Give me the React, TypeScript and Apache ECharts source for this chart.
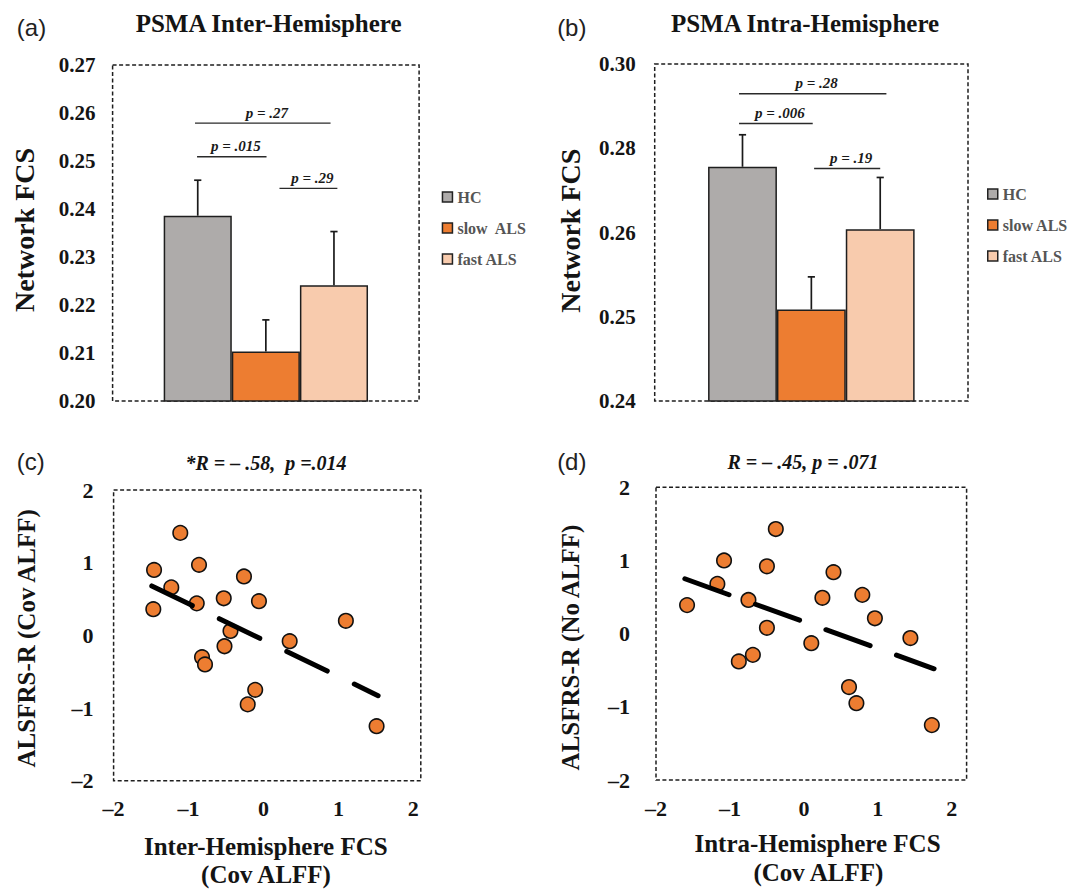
import React, { useEffect, useRef } from "react";
import * as echarts from "echarts";

// ---------- data ----------
const groupsInter = ["HC", "slow\u00a0 ALS", "fast ALS"];
const groupsIntra = ["HC", "slow ALS", "fast ALS"];
const groupColors = ["#AEABAA", "#ED7D31", "#F8CBAD"];

// (a) PSMA Inter-Hemisphere
const interMeans = [0.2386, 0.2103, 0.2241];
const interErrTops = [0.246, 0.2169, 0.2353];
const interPLabels = ["p = .015", "p = .27", "p = .29"];
const interPFrom = [-0.01, -0.04, 1.2];
const interPTo = [1.01, 1.95, 2.05];
const interPLevel = [0.2509, 0.2579, 0.2443];

// (b) PSMA Intra-Hemisphere (tick labels as printed in the figure)
const intraMeans = [0.2817, 0.2563, 0.2706];
const intraErrTops = [0.2874, 0.2621, 0.2798];
const intraYTickLabels = ["0.24", "0.25", "0.26", "0.28", "0.30"];
const intraPLabels = ["p = .006", "p = .28", "p = .19"];
const intraPFrom = [-0.05, -0.05, 1.04];
const intraPTo = [1.02, 2.09, 2.0];
const intraPLevel = [0.2894, 0.2947, 0.2814];

// (c) Inter-Hemisphere FCS vs ALSFRS-R
const interFcs = [-1.11, -1.46, -0.86, -1.23, -0.26, -1.47, -0.89, -0.53, -0.06, 1.1, -0.44, 0.35, -0.52, -0.82, -0.78, -0.11, -0.21, 1.51];
const alsfrsInter = [1.41, 0.9, 0.97, 0.66, 0.81, 0.36, 0.44, 0.51, 0.47, 0.2, 0.06, -0.08, -0.15, -0.3, -0.4, -0.75, -0.95, -1.25];
const fitInterX = [-1.49, 1.53];
const fitInterY = [0.68, -0.83];

// (d) Intra-Hemisphere FCS vs ALSFRS-R
const intraFcs = [-0.38, -1.08, -0.5, 0.4, -1.17, 0.79, 0.25, -0.75, -1.58, 0.96, -0.5, 0.1, 1.44, -0.69, -0.88, 0.61, 0.71, 1.73];
const alsfrsIntra = [1.43, 1.0, 0.92, 0.84, 0.68, 0.53, 0.49, 0.46, 0.39, 0.21, 0.08, -0.13, -0.06, -0.29, -0.38, -0.73, -0.95, -1.25];
const fitIntraX = [-1.61, 1.76];
const fitIntraY = [0.75, -0.48];

// ---------- styles ----------
const SERIF = '"Liberation Serif", "Times New Roman", serif';
const SANS = '"Liberation Sans", Arial, sans-serif';
const INK = "#141414";

function gridBox(left: number, top: number, width: number, height: number) {
  return {
    left, top, width, height,
    show: true,
    backgroundColor: "transparent",
    borderColor: "#1e1e1e",
    borderWidth: 1.5,
    borderType: [4, 2.5],
  };
}

function intLabel(v: number) {
  if (Math.abs(v - Math.round(v)) > 1e-6) return "";
  const r = Math.round(v);
  return r < 0 ? "\u2013" + Math.abs(r) : String(r);
}

const tickFont = (size: number) => ({
  color: INK,
  fontFamily: SERIF,
  fontWeight: "bold" as const,
  fontSize: size,
});

function txt(text: string, x: number, y: number, font: any, rotation = 0) {
  return {
    type: "text",
    x, y, rotation,
    silent: true,
    style: {
      text,
      fill: font.color ?? INK,
      fontFamily: font.family ?? SERIF,
      fontSize: font.size,
      fontWeight: font.weight ?? "bold",
      fontStyle: font.style ?? "normal",
      textAlign: "center",
      textVerticalAlign: "middle",
      align: "center",
      verticalAlign: "middle",
    },
  };
}

function barSeries(names: string[], means: number[], gi: number) {
  return names.map((name, i) => ({
    type: "bar",
    name,
    xAxisIndex: gi,
    yAxisIndex: gi,
    data: [[i, means[i]]],
    barWidth: "100%",
    barGap: "-100%",
    itemStyle: { color: groupColors[i], borderColor: "#1e1e1e", borderWidth: 1.5 },
    z: 2,
  }));
}

function errorSeries(means: number[], tops: number[], gi: number) {
  return {
    type: "custom",
    xAxisIndex: gi,
    yAxisIndex: gi,
    z: 4,
    silent: true,
    encode: { x: 0, y: [1, 2] },
    data: means.map((m, i) => [i, m, tops[i]]),
    renderItem: (params: any, api: any) => {
      const x = api.value(0);
      const p0 = api.coord([x, api.value(1)]);
      const p1 = api.coord([x, api.value(2)]);
      const st = { stroke: "#1a1a1a", lineWidth: 1.7 };
      return {
        type: "group",
        children: [
          { type: "line", shape: { x1: p0[0], y1: p0[1], x2: p1[0], y2: p1[1] }, style: st },
          { type: "line", shape: { x1: p1[0] - 3.6, y1: p1[1], x2: p1[0] + 3.6, y2: p1[1] }, style: st },
        ],
      };
    },
  };
}

function bracketSeries(labels: string[], from: number[], to: number[], level: number[], gi: number) {
  return {
    type: "custom",
    xAxisIndex: gi,
    yAxisIndex: gi,
    z: 4,
    silent: true,
    encode: { x: [0, 1], y: 2 },
    data: labels.map((_, i) => [from[i], to[i], level[i]]),
    renderItem: (params: any, api: any) => {
      const a = api.coord([api.value(0), api.value(2)]);
      const b = api.coord([api.value(1), api.value(2)]);
      return {
        type: "group",
        children: [
          { type: "line", shape: { x1: a[0], y1: a[1], x2: b[0], y2: b[1] }, style: { stroke: "#2a2a2a", lineWidth: 1.4 } },
          {
            type: "text",
            x: (a[0] + b[0]) / 2 + 4,
            y: a[1] - 3,
            style: {
              text: labels[params.dataIndex],
              fill: "#1a1a1a",
              fontFamily: SERIF,
              fontSize: 15,
              fontWeight: "bold",
              fontStyle: "italic",
              textAlign: "center",
              textVerticalAlign: "bottom",
              align: "center",
              verticalAlign: "bottom",
            },
          },
        ],
      };
    },
  };
}

function scatterSeries(xs: number[], ys: number[], gi: number) {
  return {
    type: "scatter",
    xAxisIndex: gi,
    yAxisIndex: gi,
    data: xs.map((x, i) => [x, ys[i]]),
    symbol: "circle",
    symbolSize: 14.5,
    itemStyle: { color: "#ED7D31", borderColor: "#111", borderWidth: 1.6, opacity: 1 },
    z: 3,
  };
}

function fitSeries(xs: number[], ys: number[], gi: number, dash: number[]) {
  return {
    type: "line",
    xAxisIndex: gi,
    yAxisIndex: gi,
    data: xs.map((x, i) => [x, ys[i]]),
    symbol: "none",
    silent: true,
    lineStyle: { color: "#000", width: 5, type: dash, cap: "round" },
    z: 4,
  };
}

const hiddenAxisParts = {
  axisLine: { show: false },
  axisTick: { show: false },
  splitLine: { show: false },
};

function legendFor(names: string[], left: number, top: number) {
  return {
    data: names,
    left,
    top,
    padding: 0,
    orient: "vertical",
    icon: "rect",
    itemWidth: 10,
    itemHeight: 10,
    itemGap: 15,
    selectedMode: false,
    itemStyle: { borderColor: "#222", borderWidth: 1.5 },
    textStyle: { fontFamily: SERIF, fontWeight: "bold", fontSize: 16, color: "#555" },
  };
}

export default function App() {
  const ref = useRef<HTMLDivElement>(null);

  useEffect(() => {
    if (!ref.current) return;
    const chart = echarts.init(ref.current, undefined, { renderer: "svg" });

    const option: any = {
      animation: false,
      backgroundColor: "#ffffff",
      grid: [
        gridBox(112.6, 65, 306.5, 336),
        gridBox(654.7, 64, 313.3, 337),
        gridBox(113.6, 490, 307.2, 290.7),
        gridBox(656, 487.3, 310.6, 292.7),
      ],
      xAxis: [
        { gridIndex: 0, type: "value", min: -1.25, max: 3.25, show: false },
        { gridIndex: 1, type: "value", min: -1.275, max: 3.275, show: false },
        {
          gridIndex: 2, type: "value", min: -2, max: 2.1, interval: 1, ...hiddenAxisParts,
          axisLabel: { ...tickFont(22), margin: 17, formatter: intLabel, showMaxLabel: true },
        },
        {
          gridIndex: 3, type: "value", min: -2, max: 2.2, interval: 1, ...hiddenAxisParts,
          axisLabel: { ...tickFont(22), margin: 17, formatter: intLabel, showMaxLabel: true },
        },
      ],
      yAxis: [
        {
          gridIndex: 0, type: "value", min: 0.2, max: 0.27, interval: 0.01, ...hiddenAxisParts,
          axisLabel: { ...tickFont(21), margin: 17, formatter: (v: number) => v.toFixed(2) },
        },
        {
          gridIndex: 1, type: "value", min: 0.24, max: 0.3, interval: 0.015, ...hiddenAxisParts,
          axisLabel: {
            ...tickFont(21), margin: 19,
            formatter: (v: number) => intraYTickLabels[Math.round((v - 0.24) / 0.015)] ?? "",
          },
        },
        {
          gridIndex: 2, type: "value", min: -2, max: 2, interval: 1, ...hiddenAxisParts,
          axisLabel: { ...tickFont(22), margin: 20, formatter: intLabel },
        },
        {
          gridIndex: 3, type: "value", min: -2, max: 2, interval: 1, ...hiddenAxisParts,
          axisLabel: { ...tickFont(22), margin: 26, formatter: intLabel },
        },
      ],
      legend: [legendFor(groupsInter, 441.7, 189), legendFor(groupsIntra, 987, 186)],
      series: [
        ...barSeries(groupsInter, interMeans, 0),
        errorSeries(interMeans, interErrTops, 0),
        bracketSeries(interPLabels, interPFrom, interPTo, interPLevel, 0),
        ...barSeries(groupsIntra, intraMeans, 1),
        errorSeries(intraMeans, intraErrTops, 1),
        bracketSeries(intraPLabels, intraPFrom, intraPTo, intraPLevel, 1),
        scatterSeries(interFcs, alsfrsInter, 2),
        fitSeries(fitInterX, fitInterY, 2, [45, 30]),
        scatterSeries(intraFcs, alsfrsIntra, 3),
        fitSeries(fitIntraX, fitIntraY, 3, [47, 28]),
      ],
      graphic: {
        elements: [
          txt("(a)", 31.5, 27.5, { family: SANS, size: 24, weight: "normal", color: "#222" }),
          txt("(b)", 571.8, 27, { family: SANS, size: 24, weight: "normal", color: "#222" }),
          txt("(c)", 30.7, 461, { family: SANS, size: 24, weight: "normal", color: "#222" }),
          txt("(d)", 571.8, 461, { family: SANS, size: 24, weight: "normal", color: "#222" }),
          txt("PSMA Inter-Hemisphere", 268.6, 23.3, { size: 25 }),
          txt("PSMA Intra-Hemisphere", 805, 23.3, { size: 25 }),
          txt("*R = \u2013 .58,\u00a0 p =.014", 266, 463.3, { size: 20, style: "italic" }),
          txt("R = \u2013 .45, p = .071", 803, 461.7, { size: 20, style: "italic" }),
          txt("Network FCS", 24, 230, { size: 28 }, Math.PI / 2),
          txt("Network FCS", 570.5, 230.7, { size: 28 }, Math.PI / 2),
          txt("ALSFRS-R (Cov ALFF)", 26.7, 638.3, { size: 25 }, Math.PI / 2),
          txt("ALSFRS-R (No ALFF)", 570.5, 647.5, { size: 25 }, Math.PI / 2),
          txt("Inter-Hemisphere FCS", 265.8, 846, { size: 25 }),
          txt("(Cov ALFF)", 266, 874.5, { size: 25 }),
          txt("Intra-Hemisphere FCS", 817.5, 843.3, { size: 25 }),
          txt("(Cov ALFF)", 818.4, 872.5, { size: 25 }),
        ],
      },
    };

    chart.setOption(option);
    return () => chart.dispose();
  }, []);

  return (
    <div
      ref={ref}
      style={{ position: "absolute", left: 0, top: 0, width: 1070, height: 889, background: "#fff" }}
    />
  );
}
